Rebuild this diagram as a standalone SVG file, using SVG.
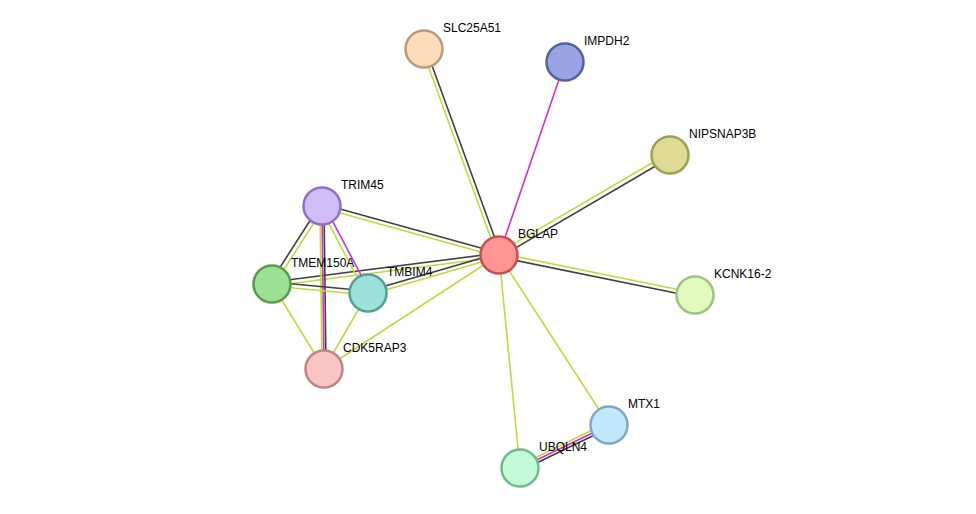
<svg xmlns="http://www.w3.org/2000/svg" width="976" height="514" viewBox="0 0 976 514">
<style>
.g{stroke:#c2d840;stroke-width:1.6;fill:none}
.d{stroke:#404040;stroke-width:1.6;fill:none}
.m{stroke:#d030d0;stroke-width:1.6;fill:none}
circle{stroke-width:2.5}
text{font-family:"Liberation Sans",Arial,sans-serif;font-size:12px;fill:#000}
</style>
<rect width="976" height="514" fill="#fff"/>
<g id="connectors">
<line class="g" x1="422" y1="49" x2="497" y2="255"/><line class="d" x1="426" y1="49" x2="501" y2="255"/>
<line class="m" x1="565" y1="62" x2="499" y2="255"/>
<line class="g" x1="669" y1="153" x2="498" y2="253"/><line class="d" x1="671" y1="157" x2="500" y2="257"/>
<line class="g" x1="499" y1="253" x2="695" y2="293"/><line class="d" x1="499" y1="257" x2="695" y2="297"/>
<line class="g" x1="322" y1="208" x2="499" y2="257"/><line class="d" x1="322" y1="204" x2="499" y2="253"/>
<line class="g" x1="272" y1="286" x2="499" y2="257"/><line class="d" x1="272" y1="282" x2="499" y2="253"/>
<line class="g" x1="368" y1="295" x2="499" y2="257"/><line class="d" x1="368" y1="291" x2="499" y2="253"/>
<line class="g" x1="324" y1="369" x2="499" y2="255"/>
<line class="g" x1="499" y1="255" x2="609" y2="425"/>
<line class="g" x1="499" y1="255" x2="520" y2="468"/>
<line class="g" x1="609" y1="422" x2="520" y2="465"/><line class="m" x1="609" y1="425" x2="520" y2="468"/><line class="d" x1="609" y1="428" x2="520" y2="471"/>
<line class="g" x1="324" y1="207" x2="274" y2="285"/><line class="d" x1="320" y1="205" x2="270" y2="283"/>
<line class="g" x1="320" y1="207" x2="366" y2="294"/><line class="m" x1="324" y1="205" x2="370" y2="292"/>
<line class="g" x1="320" y1="206" x2="322" y2="369"/><line class="m" x1="322" y1="206" x2="324" y2="369"/><line class="d" x1="324" y1="206" x2="326" y2="369"/>
<line class="g" x1="272" y1="286" x2="368" y2="295"/><line class="d" x1="272" y1="282" x2="368" y2="291"/>
<line class="g" x1="272" y1="284" x2="324" y2="369"/>
<line class="g" x1="368" y1="293" x2="324" y2="369"/>
</g>
<g id="SLC25A51"><circle cx="424" cy="49" r="18.5" fill="#fddcbc" stroke="#b89c7c"/><text x="443" y="32">SLC25A51</text></g>
<g id="IMPDH2"><circle cx="565" cy="62" r="18.5" fill="#9aa3e2" stroke="#5562a0"/><text x="584" y="45">IMPDH2</text></g>
<g id="NIPSNAP3B"><circle cx="670" cy="155" r="18.5" fill="#dedc94" stroke="#a0a050"/><text x="689" y="138">NIPSNAP3B</text></g>
<g id="KCNK16-2"><circle cx="695" cy="295" r="18.5" fill="#e2fabc" stroke="#a2c080"/><text x="714" y="278">KCNK16-2</text></g>
<g id="TRIM45"><circle cx="322" cy="206" r="18.5" fill="#d2bcf8" stroke="#9070c0"/><text x="341" y="189">TRIM45</text></g>
<g id="TMEM150A"><circle cx="272" cy="284" r="18.5" fill="#9ce094" stroke="#5a9a50"/><text x="291" y="267">TMEM150A</text></g>
<g id="TMBIM4"><circle cx="368" cy="293" r="18.5" fill="#9ce2d8" stroke="#50a098"/><text x="387" y="276">TMBIM4</text></g>
<g id="CDK5RAP3"><circle cx="324" cy="369" r="18.5" fill="#f8c4c4" stroke="#c08484"/><text x="343" y="352">CDK5RAP3</text></g>
<g id="MTX1"><circle cx="609" cy="425" r="18.5" fill="#c2e8fc" stroke="#80a8c4"/><text x="628" y="408">MTX1</text></g>
<g id="UBQLN4"><circle cx="520" cy="468" r="18.5" fill="#c2fad8" stroke="#74b890"/><text x="539" y="451">UBQLN4</text></g>
<g id="BGLAP"><circle cx="499" cy="255" r="18.5" fill="#ff9494" stroke="#c05454"/><text x="518" y="238">BGLAP</text></g>
</svg>
